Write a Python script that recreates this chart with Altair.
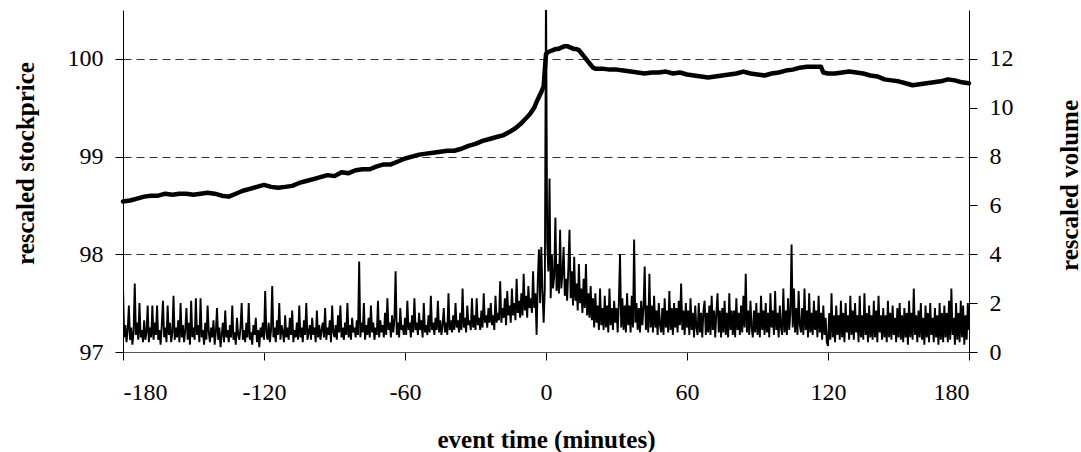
import altair as alt
import pandas as pd

FONT = "Liberation Serif"

# ---- data ----
price_minutes = [
    -180, -177, -174, -171, -168, -165, -162, -159, -156, -153,
    -150, -147, -144, -141, -138, -135, -132, -129, -126, -123,
    -120, -117, -114, -111, -108, -105, -102, -99, -96, -93,
    -90, -87, -84, -81, -78, -75, -72, -69, -66, -63,
    -60, -57, -54, -51, -48, -45, -42, -39, -36, -33,
    -30, -27, -24, -21, -18, -15, -13, -11, -9, -7,
    -5, -4, -3, -2, -1, 0, 1, 2, 3, 4,
    5, 6, 7, 8, 9, 10, 11, 12, 13, 14,
    15, 16, 17, 18, 19, 20, 21, 24, 27, 30,
    33, 36, 39, 42, 45, 48, 51, 54, 57, 60,
    63, 66, 69, 72, 75, 78, 81, 84, 87, 90,
    93, 96, 99, 102, 105, 108, 111, 114, 117, 118,
    120, 123, 126, 129, 132, 135, 138, 141, 144, 147,
    150, 153, 156, 159, 162, 165, 168, 171, 174, 177,
    180,
]
price_values = [
    98.54, 98.55, 98.57, 98.59, 98.60, 98.60, 98.62, 98.61, 98.62, 98.62,
    98.61, 98.62, 98.63, 98.62, 98.60, 98.59, 98.62, 98.65, 98.67, 98.69,
    98.71, 98.69, 98.68, 98.69, 98.70, 98.73, 98.75, 98.77, 98.79, 98.81,
    98.80, 98.84, 98.83, 98.86, 98.87, 98.87, 98.90, 98.92, 98.92, 98.95,
    98.98, 99.00, 99.02, 99.03, 99.04, 99.05, 99.06, 99.06, 99.08, 99.11,
    99.13, 99.16, 99.18, 99.20, 99.22, 99.26, 99.29, 99.33, 99.38, 99.43,
    99.50, 99.56, 99.61, 99.66, 99.72, 100.05, 100.07, 100.08, 100.09, 100.10,
    100.10, 100.11, 100.12, 100.13, 100.13, 100.12, 100.11, 100.10, 100.10, 100.09,
    100.06, 100.03, 100.00, 99.97, 99.94, 99.91, 99.90, 99.90, 99.89, 99.89,
    99.88, 99.87, 99.86, 99.85, 99.86, 99.86, 99.87, 99.85, 99.86, 99.84,
    99.83, 99.82, 99.81, 99.82, 99.83, 99.84, 99.85, 99.87, 99.85, 99.84,
    99.83, 99.85, 99.86, 99.88, 99.89, 99.91, 99.92, 99.92, 99.92, 99.86,
    99.85, 99.85, 99.86, 99.87, 99.86, 99.85, 99.83, 99.82, 99.79, 99.78,
    99.77, 99.75, 99.73, 99.74, 99.75, 99.76, 99.77, 99.79, 99.78, 99.76,
    99.75,
]

# half-minute sampling of the volume trace, -180 .. 180
volume_minutes = [i / 2 for i in range(-360, 361)]
volume_values = [
    2.7, 0.6, 1.1, 0.4, 0.9, 1.9, 0.5, 1.0, 0.3, 0.8,
    2.8, 0.7, 1.2, 0.5, 2.0, 0.6, 0.9, 0.4, 1.3, 0.5,
    0.8, 1.9, 0.4, 1.0, 0.6, 1.9, 0.5, 1.2, 0.7, 1.9,
    0.5, 0.9, 0.3, 1.1, 2.1, 0.6, 1.0, 0.4, 1.9, 0.7,
    1.2, 0.4, 0.8, 2.3, 0.5, 1.0, 0.6, 1.3, 0.4, 2.0,
    0.6, 1.1, 0.4, 0.9, 1.8, 0.5, 1.2, 0.3, 2.1, 0.6,
    1.0, 0.5, 2.2, 0.7, 1.1, 0.4, 2.2, 0.6, 0.9, 0.3,
    1.2, 0.5, 1.9, 0.8, 0.4, 1.0, 0.6, 1.3, 0.3, 0.8,
    1.8, 0.5, 1.0, 0.2, 0.7, 1.2, 0.4, 1.7, 0.6, 0.9,
    0.4, 1.1, 0.6, 1.9, 0.5, 0.8, 0.3, 1.4, 0.7, 0.5,
    1.0, 2.0, 0.5, 0.9, 0.4, 1.2, 0.6, 2.0, 0.5, 0.8,
    0.3, 1.1, 0.7, 1.4, 0.4, 0.9, 0.2, 1.0, 0.6, 1.2,
    0.5, 2.5, 0.8, 0.5, 1.2, 0.4, 0.9, 2.7, 0.6, 1.0,
    0.4, 1.3, 0.7, 2.0, 0.5, 1.1, 0.8, 0.4, 1.5, 0.6,
    1.0, 0.5, 1.4, 0.7, 1.7, 0.4, 0.9, 0.6, 1.2, 0.5,
    1.9, 0.6, 1.0, 0.4, 1.3, 0.7, 2.0, 0.5, 0.8, 1.1,
    0.5, 1.4, 0.7, 1.0, 0.4, 1.7, 0.6, 1.1, 0.5, 0.9,
    1.2, 0.6, 1.8, 0.5, 1.0, 0.7, 1.3, 0.4, 1.9, 0.8,
    0.6, 1.1, 0.5, 1.5, 0.8, 1.9, 0.6, 1.0, 0.5, 1.2,
    0.7, 2.0, 0.6, 1.1, 0.5, 1.4, 0.8, 1.0, 0.6, 1.3,
    0.7, 3.7, 0.6, 1.2, 0.8, 2.0, 0.5, 1.1, 0.7, 1.4,
    0.6, 1.9, 0.8, 1.2, 0.5, 1.0, 0.7, 2.1, 0.6, 1.3,
    0.8, 1.1, 0.6, 1.6, 0.7, 2.2, 0.9, 1.2, 0.6, 1.5,
    0.8, 1.3, 3.3, 0.7, 1.2, 0.6, 1.8, 0.9, 1.1, 0.7,
    1.4, 0.7, 2.1, 0.9, 1.2, 0.6, 1.5, 0.8, 2.2, 0.9,
    1.2, 0.7, 1.6, 0.9, 1.3, 0.6, 2.0, 0.8, 1.1, 0.7,
    1.5, 0.8, 2.3, 0.9, 1.2, 0.7, 1.4, 0.9, 2.1, 0.8,
    1.3, 0.7, 1.1, 1.8, 0.8, 1.2, 0.7, 2.4, 0.9, 1.3,
    0.8, 1.5, 0.9, 2.0, 1.0, 1.3, 0.8, 1.6, 0.9, 2.6,
    1.0, 1.4, 0.8, 1.9, 1.1, 1.3, 0.9, 2.2, 1.0, 1.5,
    0.9, 2.2, 1.1, 1.4, 0.9, 1.7, 1.0, 2.4, 1.2, 1.5,
    1.0, 1.8, 1.2, 2.0, 1.1, 1.5, 0.9, 2.3, 1.2, 1.6,
    1.3, 2.9, 1.2, 1.8, 1.4, 2.2, 1.1, 2.5, 1.5, 1.9,
    1.2, 2.6, 1.5, 2.0, 1.3, 3.0, 1.6, 2.1, 1.4, 2.4,
    1.5, 3.2, 1.7, 2.3, 1.4, 2.7, 1.8, 2.2, 1.6, 3.3,
    1.8, 2.4, 0.7, 2.9, 4.2, 2.0, 4.3, 2.5, 1.2, 2.6,
    15.0, 4.5, 3.3, 7.1, 2.2, 4.0, 2.6, 3.1, 5.5, 2.5,
    3.6, 2.4, 5.0, 2.6, 3.2, 4.3, 2.3, 3.0, 2.1, 3.4,
    5.0, 2.2, 3.3, 1.9, 3.9, 2.1, 2.8, 1.7, 3.6, 2.0,
    2.6, 1.6, 3.0, 1.8, 3.6, 1.5, 2.4, 1.4, 2.7, 1.3,
    2.2, 1.0, 2.4, 1.2, 1.9, 0.9, 2.6, 1.1, 1.8, 0.9,
    2.3, 1.0, 1.9, 0.8, 2.6, 1.1, 1.8, 0.9, 2.1, 1.2,
    1.8, 0.8, 2.0, 4.0, 1.0, 2.2, 0.9, 1.9, 0.8, 2.4,
    1.1, 1.9, 0.8, 2.3, 1.0, 4.6, 1.2, 2.0, 0.9, 1.8,
    0.8, 2.1, 1.1, 1.8, 3.5, 0.9, 1.9, 0.8, 3.2, 1.0,
    1.9, 0.8, 2.3, 1.0, 1.7, 0.7, 2.0, 1.1, 0.8, 1.8,
    0.7, 2.2, 1.0, 1.7, 0.8, 2.5, 0.9, 1.8, 0.7, 2.0,
    1.0, 1.8, 0.8, 2.1, 1.1, 2.8, 0.9, 1.7, 0.7, 2.0,
    1.0, 1.7, 0.7, 2.2, 0.9, 1.6, 0.6, 1.9, 1.0, 0.7,
    2.0, 0.8, 1.6, 0.6, 1.7, 2.1, 0.7, 1.6, 0.8, 1.9,
    0.7, 2.3, 0.9, 1.7, 0.6, 1.6, 2.4, 0.8, 1.7, 0.6,
    1.8, 0.8, 2.1, 0.7, 1.6, 0.6, 2.4, 0.9, 1.7, 0.7,
    1.7, 0.6, 2.2, 0.9, 1.6, 0.7, 1.9, 0.8, 2.3, 1.0,
    3.2, 0.8, 1.7, 0.7, 2.1, 1.0, 0.6, 1.7, 0.8, 2.0,
    0.7, 1.6, 0.6, 2.3, 0.9, 1.7, 0.7, 2.0, 0.8, 1.6,
    0.6, 2.4, 1.0, 1.7, 0.7, 2.5, 0.9, 1.6, 0.6, 1.9,
    1.0, 0.7, 2.6, 0.8, 1.7, 0.7, 2.2, 0.9, 1.6, 4.4,
    1.0, 2.6, 0.8, 1.8, 0.7, 2.5, 1.1, 0.8, 1.8, 0.7,
    2.6, 0.9, 1.7, 0.6, 2.4, 0.8, 1.6, 0.7, 2.1, 0.9,
    1.7, 0.6, 2.3, 0.8, 1.6, 0.5, 1.9, 0.7, 1.4, 0.4,
    0.25, 1.6, 0.5, 2.4, 0.6, 1.5, 0.4, 1.9, 0.7, 1.5,
    0.5, 2.1, 0.6, 1.6, 0.4, 2.0, 0.8, 1.5, 0.5, 2.3,
    0.7, 1.7, 0.5, 2.0, 0.8, 1.5, 0.4, 2.3, 0.6, 1.5,
    0.5, 2.4, 0.7, 1.6, 0.4, 1.9, 0.6, 1.5, 0.5, 2.1,
    0.6, 1.7, 0.4, 2.3, 0.8, 1.5, 0.5, 1.8, 0.6, 1.5,
    0.4, 2.1, 0.6, 1.6, 0.5, 1.9, 0.7, 1.4, 0.4, 1.8,
    0.6, 2.0, 0.5, 1.5, 0.4, 1.8, 0.6, 1.6, 0.3, 2.1,
    0.6, 1.6, 0.5, 2.6, 0.7, 1.5, 0.4, 1.7, 0.6, 2.0,
    0.5, 1.4, 0.3, 1.9, 0.6, 1.6, 0.4, 2.0, 0.7, 1.4,
    0.4, 1.8, 0.6, 1.5, 0.3, 2.0, 0.5, 1.6, 0.4, 1.9,
    0.6, 1.6, 0.4, 2.1, 0.5, 2.6, 0.7, 1.4, 0.3, 2.0,
    0.5, 1.6, 0.4, 2.1, 0.6, 1.9, 0.3, 1.5, 0.5, 2.0,
    0.9,
]

x_ticks = [-180, -120, -60, 0, 60, 120, 180]
price_ticks = [97, 98, 99, 100]
volume_ticks = [0, 2, 4, 6, 8, 10, 12]

price_df = pd.DataFrame({"minute": price_minutes, "price": price_values})
vol_df = pd.DataFrame({"minute": volume_minutes, "volume": volume_values})

x_scale = alt.Scale(domain=[-180, 180], nice=False, zero=False)
x_axis = alt.Axis(
    values=x_ticks, title="event time (minutes)", grid=False,
    tickSize=8, labelPadding=20, domainColor="#555555",
    labelExpr="'' + datum.value",
    titleY=95, titleBaseline="alphabetic", titleFontSize=25,
)

volume = alt.Chart(vol_df).mark_line(
    color="black", strokeWidth=1.9, clip=True, strokeJoin="miter"
).encode(
    x=alt.X("minute:Q", scale=x_scale, axis=x_axis),
    y=alt.Y(
        "volume:Q",
        scale=alt.Scale(domain=[0, 14], nice=False, zero=False),
        axis=alt.Axis(
            orient="right", values=volume_ticks, grid=False, title="rescaled volume",
            tickSize=8, labelPadding=12, labelAlign="left",
            titleAngle=270, titleAlign="center", titleBaseline="alphabetic",
            titleX=108, titleY=175, titleFontSize=25,
        ),
    ),
)

price = alt.Chart(price_df).mark_line(
    color="black", strokeWidth=4.5, strokeJoin="round", strokeCap="round"
).encode(
    x=alt.X("minute:Q", scale=x_scale, axis=x_axis),
    y=alt.Y(
        "price:Q",
        scale=alt.Scale(domain=[97, 100.5], nice=False, zero=False),
        axis=alt.Axis(
            orient="left", values=price_ticks, grid=True, gridDash=[8, 5],
            gridColor="#333333", gridWidth=1, title="rescaled stockprice",
            tickSize=8, labelPadding=12,
            titleAngle=270, titleAlign="center", titleBaseline="alphabetic",
            titleX=-90, titleY=153, titleFontSize=25,
        ),
    ),
)

chart = (
    alt.layer(volume, price)
    .resolve_scale(y="independent")
    .properties(
        width=846, height=342,
        autosize=alt.AutoSizeParams(type="none"),
        padding={"left": 123, "top": 10, "right": 112, "bottom": 100},
        background="white",
    )
    .configure_view(stroke=None)
    .configure_axis(
        labelFont=FONT, titleFont=FONT, labelFontSize=24, titleFontSize=25,
        titleFontWeight="bold", labelColor="black", titleColor="black",
        tickColor="black", domainColor="black", domainWidth=1, tickWidth=1,
    )
)

chart.save("out.html", embed_options={"renderer": "svg", "actions": False})
